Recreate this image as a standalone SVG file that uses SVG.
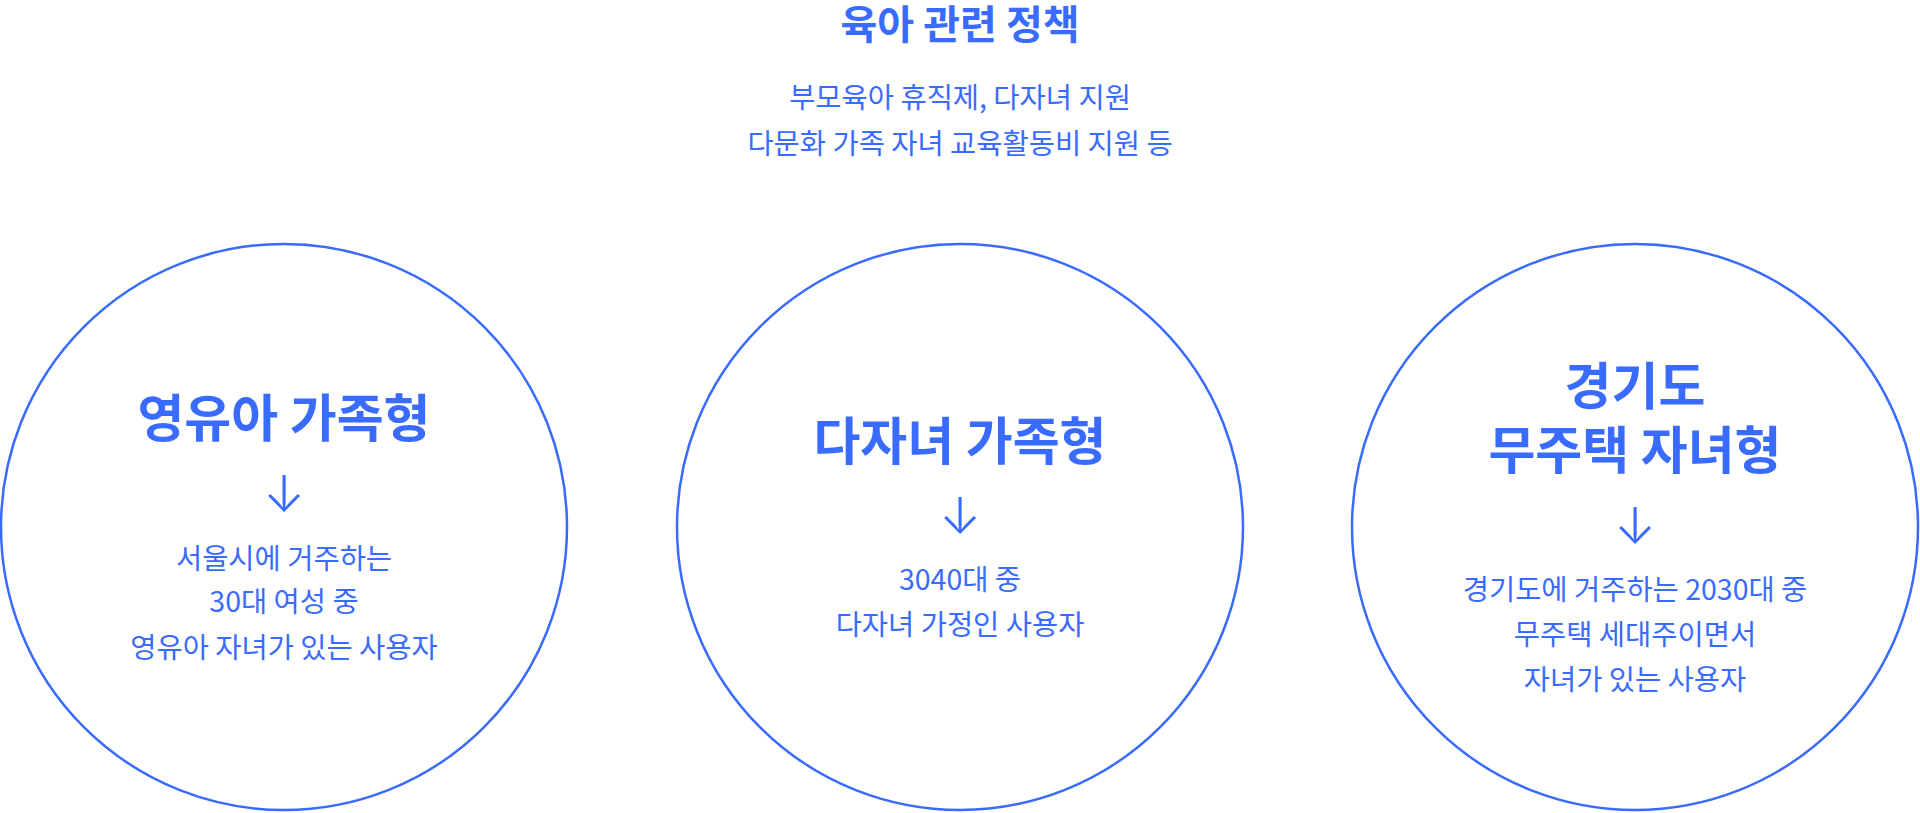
<svg xmlns="http://www.w3.org/2000/svg" width="1920" height="813" viewBox="0 0 1920 813">
<style>
.c{fill:none;stroke:#3A6BFF;stroke-width:2.5}
text{fill:#3A6BFF;font-family:"Noto Sans CJK KR","Noto Sans",sans-serif;text-anchor:middle}
.h{font-size:40px;font-weight:700}
.t{font-size:51px;font-weight:700}
.d{font-size:28.5px;font-weight:400}
.a{font-family:Inter,"DejaVu Sans",sans-serif;font-size:50px;font-weight:300}
</style>
<rect width="1920" height="813" fill="#fff"/>
<g id="header">
<text class="h" x="960" y="39">육아 관련 정책</text>
<text class="d" x="960" y="107.5">부모육아 휴직제, 다자녀 지원</text>
<text class="d" x="960" y="153.5">다문화 가족 자녀 교육활동비 지원 등</text>
</g>
<g id="node-infant">
<circle class="c" cx="284" cy="527" r="283"/>
<text class="t" x="284" y="437">영유아 가족형</text>
<text class="a" x="284" y="512">↓</text>
<text class="d" x="284" y="569">서울시에 거주하는</text>
<text class="d" x="284" y="611.5">30대 여성 중</text>
<text class="d" x="284" y="657.5">영유아 자녀가 있는 사용자</text>
</g>
<g id="node-multichild">
<circle class="c" cx="960" cy="527" r="283"/>
<text class="t" x="960" y="459.5">다자녀 가족형</text>
<text class="a" x="960" y="534">↓</text>
<text class="d" x="960" y="590">3040대 중</text>
<text class="d" x="960" y="635">다자녀 가정인 사용자</text>
</g>
<g id="node-gyeonggi">
<circle class="c" cx="1635" cy="527" r="283"/>
<text class="t" x="1635" y="404.5">경기도</text>
<text class="t" x="1635" y="469">무주택 자녀형</text>
<text class="a" x="1635" y="544">↓</text>
<text class="d" x="1635" y="599.5">경기도에 거주하는 2030대 중</text>
<text class="d" x="1635" y="644.5">무주택 세대주이면서</text>
<text class="d" x="1635" y="689.5">자녀가 있는 사용자</text>
</g>
<g id="connectors"></g>
</svg>
